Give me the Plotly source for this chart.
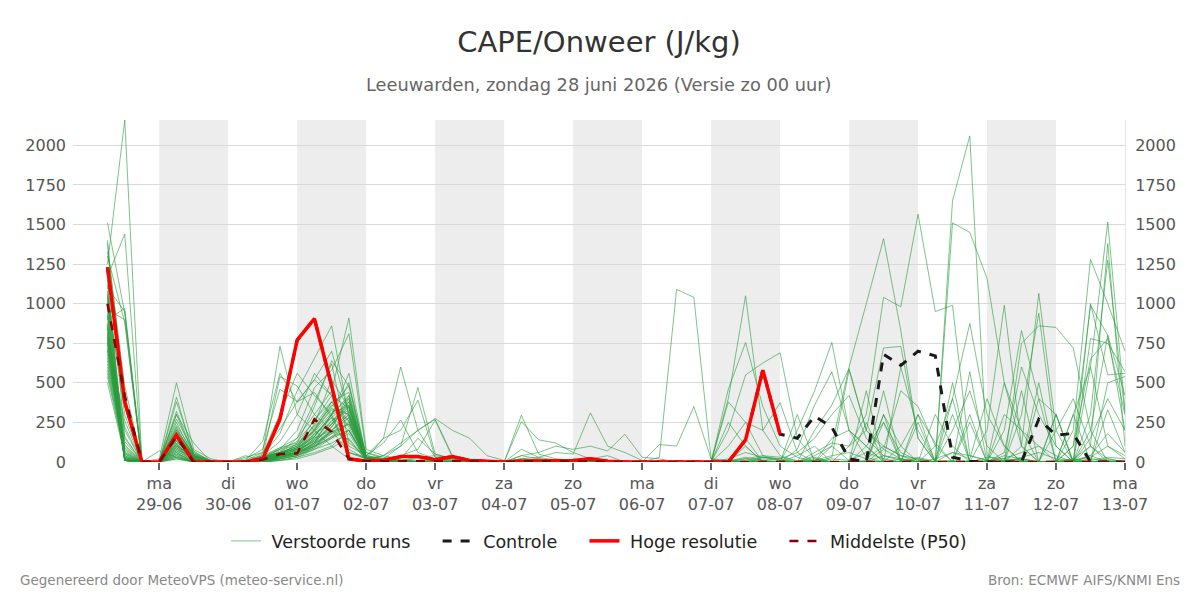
import plotly.graph_objects as go
import pandas as pd

# ---------------- data ----------------
run_start = "2026-06-28 06:00"          # first forecast step (6-hourly)
n_steps = 60
times = pd.date_range(run_start, periods=n_steps, freq="6h")

day_ticks = pd.date_range("2026-06-29", "2026-07-13", freq="D")
tick_labels = ["ma<br>29-06", "di<br>30-06", "wo<br>01-07", "do<br>02-07", "vr<br>03-07",
               "za<br>04-07", "zo<br>05-07", "ma<br>06-07", "di<br>07-07", "wo<br>08-07",
               "do<br>09-07", "vr<br>10-07", "za<br>11-07", "zo<br>12-07", "ma<br>13-07"]
shaded_days = ["2026-06-29", "2026-07-01", "2026-07-03", "2026-07-05",
               "2026-07-07", "2026-07-09", "2026-07-11"]
y_ticks = [0, 250, 500, 750, 1000, 1250, 1500, 1750, 2000]
legend_names = ["Verstoorde runs", "Controle", "Hoge resolutie", "Middelste (P50)"]

# Hoge resolutie (to 08-07 00 uur)
hres = [1230, 380, 0, 0, 170, 0, 0, 0, 0, 20, 270, 770, 905, 480, 20, 5, 10, 35, 35, 15,
        35, 10, 5, 0, 5, 5, 5, 10, 20, 5, 0, 0, 0, 0, 0, 0, 0, 140, 580, 175]

# Controle (coincides with the high-resolution run until 08-07)
controle = [1230, 380, 0, 0, 170, 0, 0, 0, 0, 20, 270, 770, 905, 480, 20, 5, 10, 35, 35, 15,
            35, 10, 5, 0, 5, 5, 5, 10, 20, 5, 0, 0, 0, 0, 0, 0, 0, 140, 580, 175,
            150, 290, 220, 20, 0, 680, 610, 700, 670, 30, 5, 0, 0, 0, 270, 170, 180, 0, 0, 0]

# Middelste (P50)
median = [1000, 420, 0, 0, 160, 0, 0, 0, 0, 15, 50, 55, 270, 190, 20, 5, 5, 5, 5, 5,
          5, 5, 0, 0, 5, 5, 5, 5, 5, 0, 0, 0, 0, 0, 0, 0, 0, 0, 0, 0,
          0, 0, 0, 0, 0, 0, 0, 0, 0, 0, 0, 0, 0, 0, 0, 0, 0, 0, 0, 0]

# Verstoorde runs: one string per member, days separated by "|"
members_txt = [
    "1510 940 0|0 380 60 10|0 10 40 130|300 560 420 80|20 10 5 5|10 5 0 0|0 10 20 10|10 5 5 5|0 0 5 0|0 10 20 40|30 10 0 20|10 0 40 20|0 5 10 0|0 10 20 0|0 0 20 10|0",
    "1250 2160 0|0 300 40 5|0 5 20 60|150 380 620 120|40 20 10 0|0 5 0 0|0 20 30 10|5 5 0 0|0 0 0 0|0 20 60 30|10 0 10 40|60 20 100 40|20 0 0 10|0 0 30 60|20 10 0 0|0",
    "1170 1440 0|0 250 30 5|0 0 30 540|480 300 200 60|30 10 5 0|0 0 5 0|0 0 10 5|0 0 5 0|0 0 0 10|0 0 10 30|20 60 150 300|420 150 40 10|0 20 60 40|10 0 20 0|0 10 40 180|60",
    "900 970 0|20 500 80 20|0 20 80 460|380 520 700 300|60 30 10 5|0 0 0 0|0 5 10 5|5 0 0 0|0 0 0 0|0 0 0 20|10 0 0 30|580 200 80 20|0 0 0 0|10 20 60 100|40 0 10 30|20",
    "1100 950 0|0 320 50 10|0 10 130 560|380 440 280 60|20 10 20 150|50 20 0 0|0 5 5 0|0 10 5 0|0 5 0 0|0 5 30 10|0 0 20 0|0 10 0 0|20 0 0 0|0 0 5 0|0 20 100 20|0",
    "960 900 0|0 300 120 0|0 30 60 730|300 200 100 20|10 40 20 0|0 0 0 0|0 40 20 5|0 0 0 0|0 0 0 0|0 0 0 0|0 0 40 100|10 60 20 0|0 0 0 0|30 20 10 0|0 0 40 0|0",
    "1300 880 0|0 410 40 0|0 0 40 180|450 650 860 280|30 20 10 5|0 0 5 0|0 0 0 0|0 0 0 0|0 0 0 0|0 0 0 10|0 0 60 120|100 300 1040 980|1565 950 990 40|10 0 0 0|0 10 30 100|20",
    "1330 480 0|0 220 20 0|0 0 50 300|560 420 300 60|20 150 600 200|30 10 0 0|0 0 10 0|0 0 0 0|0 0 0 0|0 0 0 30|20 0 0 0|0 100 250 60|10 0 0 0|0 40 20 0|0 0 0 0|0",
    "1380 420 0|0 200 30 0|0 0 20 80|200 470 580 810|60 20 100 470|50 20 10 0|0 0 0 0|0 0 0 0|0 0 0 0|0 10 0 0|0 0 30 0|0 0 0 20|0 0 200 450|100 0 0 0|0 20 0 0|0",
    "1000 380 0|0 190 50 0|0 0 10 40|120 350 640 480|40 150 200 390|30 0 0 0|0 20 10 0|0 0 0 0|0 0 0 0|0 100 250 40|10 0 0 0|0 0 0 0|0 0 0 0|0 0 0 0|0 0 150 400|200",
    "1200 350 0|0 180 20 0|0 10 60 210|380 520 420 100|40 120 265 60|20 10 0 0|0 10 0 0|0 0 0 0|0 0 0 0|0 0 20 0|0 0 10 0|0 0 300 100|0 0 60 20|400 100 0 0|10 0 0 20|0",
    "1060 300 0|0 170 40 10|0 0 30 90|150 300 450 910|80 40 100 200|275 200 150 40|10 0 0 0|0 0 0 0|0 0 0 0|0 0 0 0|0 40 100 0|0 0 0 0|0 300 100 0|0 10 0 0|0 0 0 0|0",
    "780 260 0|0 160 30 0|0 0 20 40|80 200 340 260|20 40 120 200|270 40 10 0|0 5 0 0|0 0 0 0|0 0 0 0|0 0 0 0|0 0 0 0|0 0 80 450|350 100 0 0|0 0 0 0|200 400 100 0|0",
    "820 220 0|0 150 20 0|0 0 10 30|60 150 260 360|30 20 40 80|265 30 10 0|0 295 50 20|10 0 0 0|0 0 0 0|0 250 100 0|0 0 0 0|0 0 0 0|0 0 0 0|0 60 600 300|100 0 0 0|0",
    "740 200 0|0 140 10 0|0 0 30 60|100 270 380 440|40 20 10 30|40 20 10 0|0 255 140 120|60 20 10 0|0 0 0 0|0 0 0 0|0 0 0 150|200 100 0 0|0 0 0 0|0 0 0 0|0 300 600 100|40",
    "700 160 0|0 130 20 0|0 0 20 50|90 240 520 340|20 10 0 0|0 20 0 0|0 80 30 60|50 310 100 60|10 0 0 0|0 0 0 0|0 0 0 0|0 0 250 0|0 0 0 0|0 0 450 0|0 0 0 0|0",
    "660 130 0|0 120 10 0|0 0 10 30|50 120 300 560|30 10 10 20|0 0 0 0|0 40 60 100|80 100 70 175|30 20 0 0|0 0 0 0|0 0 0 0|0 0 0 0|300 120 0 0|0 0 0 0|0 100 650 780|300",
    "640 110 0|0 110 20 0|0 0 20 40|60 180 240 420|30 20 10 0|0 0 0 0|0 20 10 0|0 0 0 0|0 30 1090 1040|20 10 0 0|0 0 0 0|0 0 0 0|0 0 0 0|0 0 0 0|0 0 0 0|0",
    "620 90 0|0 100 10 0|0 0 10 20|40 90 200 300|20 10 10 0|0 0 0 0|0 0 0 0|0 20 40 0|0 110 100 350|20 0 0 0|0 0 0 0|0 250 0 0|0 0 0 0|0 300 200 0|0 0 0 0|0",
    "600 80 0|0 100 30 0|0 0 30 60|100 200 380 220|20 10 0 0|0 0 0 0|0 0 0 0|0 0 0 0|0 0 0 0|0 400 1050 200|40 0 0 0|0 0 0 0|0 0 500 0|0 0 0 0|0 0 0 330|60",
    "580 70 0|0 90 10 0|0 0 20 40|80 160 300 500|30 0 0 0|0 0 0 0|0 0 0 0|0 0 0 0|0 0 0 0|0 460 755 350|100 30 0 0|0 0 0 0|0 0 0 0|0 500 100 0|0 0 0 0|0",
    "560 60 0|0 80 20 0|0 0 10 30|70 150 200 280|20 0 0 0|0 0 0 0|0 0 0 0|0 0 0 0|0 0 0 0|0 200 550 625|690 150 20 0|0 0 0 0|0 0 0 570|0 0 0 0|0 0 0 0|0",
    "540 50 0|0 70 10 0|0 0 20 30|60 120 180 240|20 0 0 0|0 0 0 0|0 0 0 0|0 0 0 0|0 0 0 0|0 380 250 200|375 60 0 0|0 0 450 0|0 0 0 0|0 0 0 0|0 300 0 0|0",
    "500 40 0|0 60 0 0|0 0 10 20|40 100 160 200|10 0 0 0|0 0 0 0|0 0 0 0|0 0 0 0|0 0 0 0|0 0 100 0|0 80 360 570|200 30 0 0|0 0 300 0|0 0 0 0|0 0 0 500|540",
    "720 30 0|0 50 0 0|0 0 30 50|70 130 240 350|30 0 0 0|0 0 0 0|0 0 0 0|0 0 0 0|0 0 0 0|0 0 0 0|0 200 450 755|200 100 0 0|0 0 0 0|0 0 0 400|300 0 0 0|0",
    "760 20 0|0 40 0 0|0 0 0 10|30 80 120 180|10 0 0 0|0 0 0 0|0 0 0 0|0 0 0 0|0 0 0 0|0 0 0 0|0 0 200 360|590 200 100 40|0 0 0 250|0 0 0 0|0 0 200 800|200",
    "800 15 0|0 30 0 0|0 0 0 20|50 100 200 140|10 0 0 0|0 0 0 0|0 0 0 0|0 0 0 0|0 0 0 0|0 0 0 0|0 0 0 100|600 1000 1410 830|150 0 0 0|0 0 0 0|0 0 0 0|0",
    "840 10 0|0 30 0 0|0 0 0 10|30 60 100 200|10 0 0 0|0 0 0 0|0 0 0 0|0 0 0 0|0 0 0 0|0 0 0 0|0 0 0 0|0 0 0 0|30 0 1650 2060|40 0 0 0|0 0 0 0|0",
    "860 10 0|0 20 0 0|0 0 0 10|20 50 90 150|10 0 0 0|0 0 0 0|0 0 0 0|0 0 0 0|0 0 0 0|0 0 0 0|0 0 0 0|0 0 0 100|300 0 1510 1450|1160 500 200 100|0 0 0 0|0",
    "880 10 0|0 20 0 0|0 0 0 20|40 80 150 250|10 0 0 0|0 0 0 0|0 0 0 0|0 0 0 0|0 0 0 0|0 0 0 0|0 0 0 0|100 200 720 730|150 0 0 0|0 0 0 0|0 0 0 0|0",
    "920 10 0|0 40 0 0|0 40 10 40|60 140 220 380|20 0 0 0|0 0 0 0|0 0 0 0|0 0 0 0|0 0 0 0|0 0 0 0|0 0 0 0|0 0 0 0|0 100 400 875|300 100 0 0|0 0 0 0|0",
    "940 15 0|0 50 10 0|0 0 0 30|50 120 200 300|20 0 0 0|0 0 0 0|0 0 0 0|0 0 0 0|0 0 0 0|0 0 0 0|0 0 0 0|0 0 0 0|0 0 0 0|200 990 100 0|0 0 0 0|0",
    "980 20 0|0 60 0 0|0 0 10 40|80 180 280 200|20 0 0 0|0 0 0 0|0 0 0 0|0 0 0 0|0 0 0 0|0 0 0 0|0 0 0 0|0 0 0 0|0 0 0 0|0 200 830 400|0 0 0 0|0",
    "1020 25 0|0 70 10 0|0 0 0 20|40 90 160 260|20 0 0 0|0 0 0 0|0 0 0 0|0 0 0 0|0 0 0 0|0 0 0 0|0 0 0 0|0 0 0 0|0 0 0 0|0 0 100 1065|200 0 0 0|0",
    "1040 30 0|0 80 20 0|0 0 20 40|60 100 150 200|20 0 0 0|0 0 0 0|0 0 0 0|0 0 0 0|0 0 0 0|0 0 0 0|0 0 0 0|0 0 0 0|0 0 0 0|0 0 300 940|100 0 0 0|0",
    "1080 40 0|0 90 20 0|0 0 10 30|50 110 190 240|20 0 0 0|0 0 0 0|0 0 0 0|0 0 0 0|0 0 0 0|0 0 0 0|0 0 0 0|0 0 0 0|0 0 0 0|0 0 750 860|850 720 200 0|0",
    "1120 50 0|0 100 30 0|0 0 20 50|70 140 260 330|20 0 0 0|0 0 0 0|0 0 0 0|0 0 0 0|0 0 0 0|0 0 0 0|0 0 0 0|0 0 0 0|0 0 0 0|0 0 0 0|0 0 1000 550|560",
    "1150 60 0|0 110 20 0|0 0 30 60|90 160 300 360|20 0 0 0|0 0 0 0|0 0 0 0|0 0 0 0|0 0 0 0|0 0 0 0|0 0 0 0|0 0 0 0|0 0 0 0|0 0 0 0|0 200 1280 1000|700",
    "680 10 0|0 120 10 0|0 0 10 30|50 100 180 280|10 0 0 0|0 0 0 0|0 0 0 0|0 0 0 0|0 0 0 0|0 0 0 0|0 0 0 0|0 0 0 0|0 0 0 0|0 0 0 0|0 0 600 1515|330",
    "710 10 0|0 130 20 0|0 0 20 40|60 110 200 320|10 0 0 0|0 0 0 0|0 0 0 0|0 0 0 0|0 0 0 0|0 0 0 0|0 0 0 0|0 0 0 0|0 0 0 0|0 0 0 0|0 0 100 1380|100",
    "750 10 0|0 140 30 0|0 0 30 60|80 130 220 400|20 0 0 0|0 0 0 0|0 0 0 0|0 0 0 0|0 0 0 0|0 0 0 0|0 0 0 0|0 0 0 0|0 0 0 0|0 0 0 0|0 0 300 1275|300",
    "770 10 0|0 150 20 0|0 0 10 40|60 120 240 350|20 0 0 0|0 0 0 0|0 0 0 0|0 0 0 0|0 0 0 0|0 0 0 0|0 0 0 0|0 0 0 0|0 0 0 0|0 0 0 0|0 0 780 750|570",
    "790 10 0|0 160 40 0|0 0 20 60|80 160 300 420|20 0 0 0|0 0 0 0|0 0 0 0|0 0 0 0|0 0 0 0|0 0 0 0|0 0 0 0|0 0 0 0|0 0 0 0|0 0 0 0|0 100 990 800|420",
    "810 10 0|0 170 30 0|0 0 40 90|120 220 350 480|30 0 0 0|0 0 0 0|0 0 0 0|0 0 0 0|0 0 0 0|0 0 150 0|0 0 0 0|0 450 0 0|250 0 0 300|0 0 0 0|300 0 0 0|0",
    "850 10 0|0 180 40 0|0 0 30 80|110 200 330 300|20 0 0 0|0 0 0 0|0 0 0 0|0 0 0 0|0 0 0 0|0 0 0 0|0 0 0 0|0 0 300 0|0 0 0 0|0 0 0 0|300 0 0 0|0",
    "870 20 0|70 30 0 0|0 0 20 50|90 170 280 380|30 0 0 0|0 0 0 0|0 0 0 0|0 0 0 0|0 0 0 0|0 0 0 0|0 300 0 0|0 0 0 600|200 0 0 0|0 0 0 0|0 0 0 0|0",
    "930 30 0|0 200 50 0|0 0 20 60|100 190 310 400|20 0 0 0|0 0 0 0|0 0 0 0|0 0 0 0|0 0 0 0|0 0 0 0|0 0 0 0|0 0 0 0|0 0 400 0|0 0 0 500|0 0 0 0|0",
    "990 10 0|0 210 40 0|0 0 10 50|90 210 360 300|20 0 0 0|0 0 0 0|0 0 0 0|0 0 0 0|0 0 0 0|0 0 0 0|0 0 0 0|0 0 0 0|0 0 0 0|0 0 0 0|0 0 0 0|0",
    "1050 100 0|0 230 60 0|0 0 20 70|110 230 380 260|20 0 0 0|0 0 0 0|0 0 0 0|0 0 0 0|0 0 0 0|0 0 0 0|0 0 0 0|0 0 0 0|0 0 0 0|0 0 0 0|0 0 0 0|0",
    "1400 150 0|0 270 70 0|0 0 30 80|130 260 420 340|20 0 0 0|0 0 0 0|0 0 0 0|0 0 0 0|0 0 0 0|0 0 0 0|0 0 0 0|0 0 0 0|0 0 0 0|0 0 0 0|0 0 0 0|0",
]
members = [[int(v) for v in s.replace("|", " ").split()] for s in members_txt]
for k, m in enumerate(members):
    if len(m) != n_steps:
        raise ValueError(f"member {k} has {len(m)} values")

# ---------------- figure ----------------
FONT = "DejaVu Sans"
NB = "\u00a0"


def legend_label(name, last=False):
    # extra non-breaking spaces reproduce the wider legend spacing of the original
    return NB + name + ("" if last else NB * 4)


fig = go.Figure()

for k, m in enumerate(members):
    fig.add_trace(go.Scatter(
        x=times, y=m, mode="lines", name=legend_label(legend_names[0]),
        legendgroup="ens", showlegend=(k == 0),
        line=dict(color="rgba(40,155,60,0.6)", width=1),
        hoverinfo="skip"))

fig.add_trace(go.Scatter(x=times, y=controle, mode="lines", name=legend_label(legend_names[1]),
                         line=dict(color="#1a1a1a", width=3, dash="dash")))
fig.add_trace(go.Scatter(x=times[:len(hres)], y=hres, mode="lines",
                         name=legend_label(legend_names[2]),
                         line=dict(color="#ff0000", width=3.5)))
fig.add_trace(go.Scatter(x=times, y=median, mode="lines", name=legend_label(legend_names[3], True),
                         line=dict(color="#8b0000", width=2.5, dash="dash")))
# invisible copy for the right-hand axis
fig.add_trace(go.Scatter(x=times, y=median, mode="lines", yaxis="y2", showlegend=False,
                         line=dict(color="rgba(0,0,0,0)", width=0), hoverinfo="skip"))

shapes = []
for d in shaded_days:
    d0 = pd.Timestamp(d)
    shapes.append(dict(type="rect", xref="x", yref="paper", x0=d0, x1=d0 + pd.Timedelta(days=1),
                       y0=0, y1=1, fillcolor="#ededed", line=dict(width=0), layer="below"))

y_range = [0, max(max(m) for m in members)]

fig.update_layout(
    width=1200, height=600,
    margin=dict(l=73, r=75, t=120, b=138),
    paper_bgcolor="white", plot_bgcolor="white",
    font=dict(family=FONT, color="#555"),
    title=dict(text="CAPE/Onweer (J/kg)", x=0.5, xanchor="center", xref="paper",
               y=1 - 42 / 600, yanchor="middle", yref="container",
               font=dict(size=29, color="#333", family=FONT)),
    shapes=shapes,
    showlegend=True,
    legend=dict(orientation="h", x=0.5, xanchor="center", y=-0.231, yanchor="middle",
                itemwidth=30,
                font=dict(size=17.5, color="#222", family=FONT), bgcolor="rgba(0,0,0,0)"),
    xaxis=dict(type="date", range=["2026-06-27 18:00", "2026-07-13 00:00"],
               tickvals=list(day_ticks), ticktext=tick_labels,
               ticks="outside", ticklen=7, tickwidth=1.5, tickcolor="#666",
               showgrid=False, zeroline=False, showline=False,
               tickfont=dict(size=16, color="#555")),
    yaxis=dict(range=y_range, tickvals=y_ticks, showgrid=True, gridcolor="#d9d9d9",
               zeroline=False, showline=False, ticks="", ticklabelstandoff=6,
               tickfont=dict(size=16, color="#555")),
    yaxis2=dict(range=y_range, tickvals=y_ticks, overlaying="y", side="right",
                showgrid=False, zeroline=False, showline=True, linecolor="#e6e6e6",
                ticks="", ticklabelstandoff=6, tickfont=dict(size=16, color="#555")),
    annotations=[
        dict(text="Leeuwarden, zondag 28 juni 2026 (Versie zo 00 uur)", xref="paper", yref="paper",
             x=0.5, y=1 + 36 / 342, xanchor="center", yanchor="middle", showarrow=False,
             font=dict(size=17.8, color="#666", family=FONT)),
        dict(text="Gegenereerd door MeteoVPS (meteo-service.nl)", xref="paper", yref="paper",
             x=(18 - 73) / 1052, y=-(580 - 462) / 342, xanchor="left", yanchor="middle",
             showarrow=False, font=dict(size=13.5, color="#888", family=FONT)),
        dict(text="Bron: ECMWF AIFS/KNMI Ens", xref="paper", yref="paper",
             x=(1182 - 73) / 1052, y=-(580 - 462) / 342, xanchor="right", yanchor="middle",
             showarrow=False, font=dict(size=13.5, color="#888", family=FONT)),
    ],
)

fig.write_html("out.html")
